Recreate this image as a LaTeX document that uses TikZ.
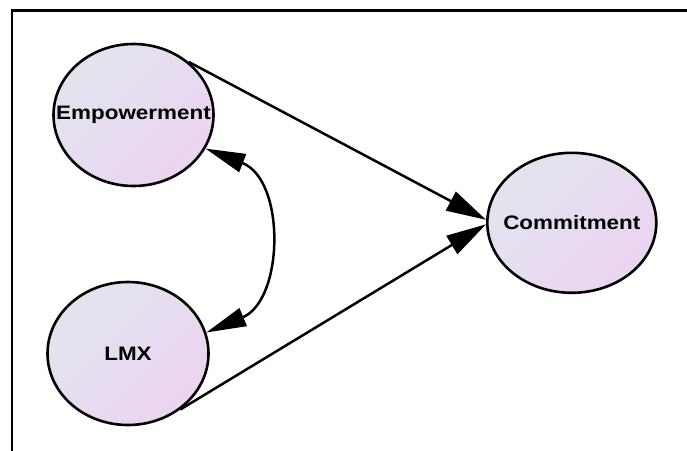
\documentclass[tikz,border=0pt]{standalone}
\usepackage{fontspec}
\setmainfont{Liberation Sans}
\usetikzlibrary{shapes.geometric,arrows.meta}
\definecolor{shadeA}{RGB}{226,228,238}
\definecolor{shadeB}{RGB}{235,212,241}
\tikzset{
  latent/.style={ellipse, draw=black, line width=2.6pt, inner sep=0pt,
    top color=shadeA, bottom color=shadeB, shading angle=45,
    font=\fontsize{19.5}{19.5}\selectfont\bfseries},
  arr/.style={line width=2.5pt, -{Triangle[length=40pt,width=21pt]}},
  dblarr/.style={line width=2.5pt, {Triangle[length=40pt,width=19pt]}-{Triangle[length=40pt,width=19pt]}},
  frameline/.style={line width=2.4pt}
}
\newcommand{\stretchtext}[1]{\makebox[0pt]{\scalebox{1.15}[1]{#1}}}
\begin{document}
\begin{tikzpicture}[x=1pt,y=-1pt]
\useasboundingbox (0,0) rectangle (687,450);
\coordinate (ftop) at (687,10.5);
\coordinate (fcorner) at (12,10.5);
\coordinate (fbottom) at (12,451);
\draw[frameline] (fbottom) -- (fcorner) -- (ftop);
\node[latent, minimum width=160pt, minimum height=142pt] (emp) at (133.5,115) {\stretchtext{Empowerment}};
\node[latent, minimum width=161pt, minimum height=143pt] (lmx) at (128,353.5) {\stretchtext{LMX}};
\node[latent, minimum width=169pt, minimum height=140pt] (com) at (571.8,222.8) {\stretchtext{Commitment}};
\draw[arr] (emp.44) -- (com.178);
\draw[arr] (lmx.-47) -- (com.181);
\draw[dblarr] (emp.-25) .. controls (286,180) and (284,300) .. (lmx.15);
\end{tikzpicture}
\end{document}
